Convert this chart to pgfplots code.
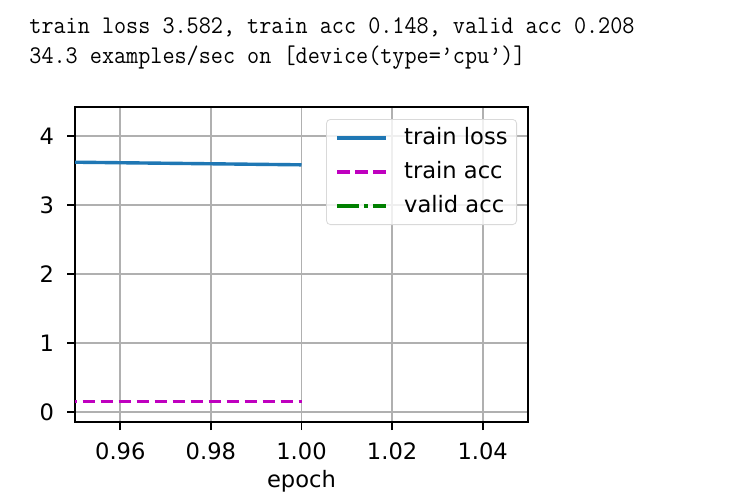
\documentclass[border=0pt]{standalone}
\usepackage{pgfplots}
\pgfplotsset{compat=1.18}
\usepackage{fontspec}
\setmainfont{DejaVu Sans}
\newfontfamily\monofont{Latin Modern Mono}
\definecolor{tabblue}{HTML}{1F77B4}
\definecolor{mplm}{HTML}{BF00BF}
\definecolor{mplg}{HTML}{008000}
\definecolor{gridgray}{HTML}{B0B0B0}
\begin{document}
\begin{tikzpicture}
\useasboundingbox[fill=white] (0,0) rectangle (375pt,250pt);
\node[anchor=base west, inner sep=0pt, font=\monofont\fontsize{11.75pt}{13pt}\selectfont, yscale=1.08, transform shape] at (14.5pt,233.5pt) {train loss 3.582, train acc 0.148, valid acc 0.208};
\node[anchor=base west, inner sep=0pt, font=\monofont\fontsize{11.75pt}{13pt}\selectfont, yscale=1.08, transform shape] at (14.5pt,218.5pt) {34.3 examples/sec on [device(type=’cpu’)]};
\begin{axis}[
  at={(37.5pt,39pt)}, anchor=south west,
  scale only axis, width=226.5pt, height=157.5pt,
  xmin=0.95, xmax=1.05, ymin=-0.145, ymax=4.42,
  xtick={0.96,0.98,1.00,1.02,1.04},
  ytick={0,1,2,3,4},
  /pgf/number format/assume math mode=true,
  tick label style={font=\fontsize{11.3pt}{13pt}\selectfont, black},
  xticklabel style={yshift=-3pt, /pgf/number format/.cd, fixed, fixed zerofill, precision=2},
  yticklabel style={xshift=-3pt},
  label style={font=\fontsize{11.3pt}{13pt}\selectfont},
  xlabel={epoch},
  xlabel style={yshift=2pt},
  grid=major,
  major grid style={draw=gridgray, line width=0.9pt},
  axis line style={line width=0.9pt, black},
  tick style={line width=0.9pt, black},
  tick align=outside, major tick length=4pt,
  xtick pos=bottom, ytick pos=left,
  clip=true,
  legend cell align=left,
  legend image code/.code={\path[draw=none] (0pt,0pt) -- (33.5pt,0pt); \draw[#1] (0pt,0pt) -- (24.5pt,0pt);},
  legend style={at={(1,1)}, anchor=north east, xshift=-5.5pt, yshift=-6pt,
    draw=gray!30, rounded corners=2pt, fill=white, fill opacity=0.8, text opacity=1,
    font=\fontsize{11.3pt}{13pt}\selectfont, row sep=6.4pt, inner xsep=4.5pt, inner ysep=4pt,
    nodes={inner sep=0pt, text height=8.3pt, text depth=2.3pt}},
]
\addplot[tabblue, line width=1.7pt] coordinates {(0.9,3.658) (1.0,3.582)};
\addlegendentry{train loss}
\addplot[mplm, line width=1.7pt, dash pattern=on 6.3pt off 2.7pt] coordinates {(0.9,0.148) (1.0,0.148)};
\addlegendentry{train acc}
\addplot[mplg, line width=1.7pt, dash pattern=on 10.8pt off 2.7pt on 1.7pt off 2.7pt] coordinates {(1.0,0.208)};
\addlegendentry{valid acc}
\end{axis}
\end{tikzpicture}
\end{document}
